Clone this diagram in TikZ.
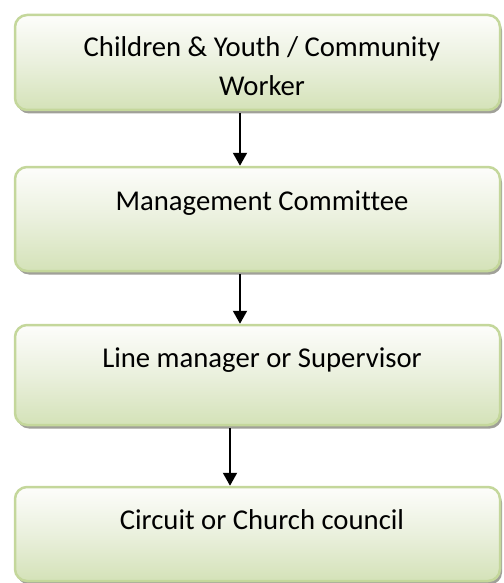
\documentclass[tikz,border=0pt]{standalone}
\usepackage{fontspec}
\setmainfont{Carlito}[Ligatures=NoCommon]
\usetikzlibrary{arrows.meta,shadows}

\definecolor{boxtop}{RGB}{253,253,251}
\definecolor{boxmid}{RGB}{234,240,221}
\definecolor{boxbottom}{RGB}{212,226,184}
\definecolor{boxline}{RGB}{196,215,155}
\definecolor{boxshadow}{RGB}{160,160,152}

\tikzset{
  stagebox/.style={
    draw=boxline, line width=2.5pt, rounded corners=12pt,
    minimum width=485pt, inner sep=0pt,
    top color=boxtop, bottom color=boxbottom, middle color=boxmid,
    drop shadow={shadow xshift=2pt, shadow yshift=-3.5pt,
                 fill=boxshadow, opacity=1}
  },
  stagetext/.style={anchor=base, inner sep=0pt, text=black,
    font=\fontsize{28.7}{39}\selectfont, align=center},
  flow/.style={line width=2pt, -{Triangle[width=14pt,length=13pt]}}
}

\begin{document}
\begin{tikzpicture}[x=1pt,y=1pt]
  \useasboundingbox (0,0) rectangle (503,-583);

  % stage boxes, top to bottom
  \node[stagebox, minimum height=95pt]  (b1) at (257.5,-62.5) {};
  \node[stagebox, minimum height=104pt] (b2) at (257.5,-219)  {};
  \node[stagebox, minimum height=100pt] (b3) at (257.5,-375)  {};
  \node[stagebox, minimum height=94pt]  (b4) at (257.5,-534)  {};

  % labels, set near the top of each box
  \node[stagetext, anchor=north] (t1) at (262,-36)
    {Children \& Youth / Community\\Worker};
  \node[stagetext] (t2) at (262,-210) {Management Committee};
  \node[stagetext] (t3) at (262,-367) {Line manager or Supervisor};
  \node[stagetext] (t4) at (262,-529) {Circuit or Church council};

  % reporting arrows
  \draw[flow] ([xshift=-17.5pt,yshift=-2pt]b1.south) -- ([xshift=-17.5pt]b2.north);
  \draw[flow] ([xshift=-17.5pt,yshift=-2pt]b2.south) -- ([xshift=-17.5pt]b3.north);
  \draw[flow] ([xshift=-27.5pt,yshift=-2pt]b3.south) -- ([xshift=-27.5pt]b4.north);
\end{tikzpicture}
\end{document}
